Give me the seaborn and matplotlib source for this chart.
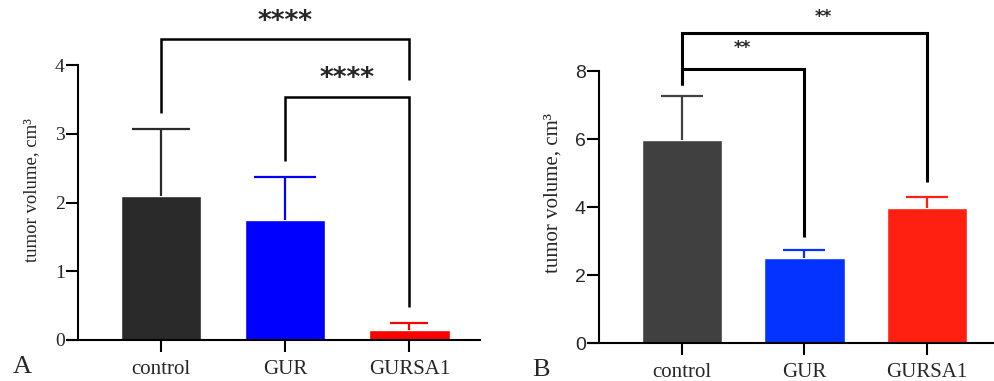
import matplotlib
matplotlib.use("Agg")
import matplotlib.pyplot as plt
import seaborn as sns
import pandas as pd

# ---- data ----
categories = ["control", "GUR", "GURSA1"]
vol_A = [2.09, 1.75, 0.14]
sd_A = [0.98, 0.62, 0.11]
vol_B = [5.97, 2.50, 3.97]
sd_B = [1.30, 0.24, 0.32]
yticks_A = [0, 1, 2, 3, 4]
yticks_B = [0, 2, 4, 6, 8]
stars_A = ["****", "****"]
stars_B = ["**", "**"]

colors_A = ["#2a2a2a", "#0000fe", "#fe0000"]
colors_B = ["#404040", "#0433ff", "#ff2011"]

sns.set_style("ticks")
plt.rcParams["font.family"] = ["Liberation Serif", "DejaVu Serif"]

W, H = 995, 381
fig = plt.figure(figsize=(W / 100, H / 100), dpi=100)


def px_ax(x0, x1, y0px):
    return [x0 / W, (H - y0px) / H, (x1 - x0) / W, y0px / H]


axA = fig.add_axes(px_ax(68, 480, 340))
axB = fig.add_axes(px_ax(588, 995, 343))

dfA = pd.DataFrame({"group": categories, "vol": vol_A})
dfB = pd.DataFrame({"group": categories, "vol": vol_B})

sns.barplot(data=dfA, x="group", y="vol", hue="group", order=categories,
            palette=colors_A, errorbar=None, width=0.65, legend=False,
            saturation=1, ax=axA)
sns.barplot(data=dfB, x="group", y="vol", hue="group", order=categories,
            palette=colors_B, errorbar=None, width=0.66, legend=False,
            saturation=1, ax=axB)

caps_A = [21, 22, 14]
caps_B = [15, 15, 15]
for ax, vals, sds, cols, caps in [(axA, vol_A, sd_A, colors_A, caps_A),
                                  (axB, vol_B, sd_B, colors_B, caps_B)]:
    for i, (v, s, c, cp) in enumerate(zip(vals, sds, cols, caps)):
        cont = ax.errorbar([i], [v], yerr=[[0], [s]], fmt="none", ecolor=c,
                           elinewidth=1.6, capsize=cp, capthick=1.6, zorder=1)
        caplines = cont.lines[1]
        if len(caplines) == 2:
            caplines[0].set_visible(False)

# axis limits / layout
axA.set_xlim(-0.75, 2.57)
axA.set_ylim(0, 340 / 68.75)
axB.set_xlim(-0.767, 2.555)
axB.set_ylim(0, 343 / 34.0)

for ax, yt, sx, fam, tfs in [(axA, yticks_A, -0.67, ["Liberation Serif"], 14),
                             (axB, yticks_B, -0.678, ["Liberation Sans"], 14)]:
    ax.spines["top"].set_visible(False)
    ax.spines["right"].set_visible(False)
    ax.spines["left"].set_position(("data", sx))
    ax.spines["left"].set_bounds(yt[0], yt[-1])
    for sp in ("left", "bottom"):
        ax.spines[sp].set_linewidth(1.5)
        ax.spines[sp].set_color("black")
    ax.set_yticks(yt)
    ax.set_yticklabels([str(t) for t in yt], family=fam, fontsize=tfs)
    ax.set_xticks(range(len(categories)))
    ax.set_xticklabels(categories, family=["Liberation Serif"], fontsize=15)
    ax.tick_params(axis="both", width=1.5, length=8.5, color="black")
    ax.tick_params(axis="x", pad=6)
    ax.tick_params(axis="y", pad=1)
    ax.set_xlabel("")
    ax.set_ylabel("tumor volume, cm³", fontsize=13.5 if ax is axA else 15,
                  family=["Liberation Serif"])
    ax.yaxis.label.set_va("center")

axA.yaxis.set_label_coords(32 / W, 1 - 190 / H, transform=fig.transFigure)
axB.yaxis.set_label_coords(553 / W, 1 - 193 / H, transform=fig.transFigure)


def bracket(ax, x1, x2, h, b1, b2, lw):
    ax.plot([x1, x1, x2, x2], [b1, h, h, b2], color="black", lw=lw,
            clip_on=False, solid_joinstyle="miter", solid_capstyle="butt")


bracket(axA, 0, 2, 4.38, 3.30, 3.78, 1.8)
bracket(axA, 1, 2, 3.53, 2.60, 0.48, 1.8)
axA.text(1.0, 4.63, stars_A[0], ha="center", va="center", fontsize=19,
         fontweight="bold", family=["DejaVu Sans"])
axA.text(1.5, 3.80, stars_A[1], ha="center", va="center", fontsize=19,
         fontweight="bold", family=["DejaVu Sans"])

bracket(axB, 0, 2, 9.12, 7.59, 4.74, 2.2)
bracket(axB, 0, 1, 8.06, 7.59, 3.12, 2.2)
axB.text(1.15, 9.59, stars_B[0], ha="center", va="center", fontsize=12,
         fontweight="bold", family=["DejaVu Sans"])
axB.text(0.49, 8.68, stars_B[1], ha="center", va="center", fontsize=12,
         fontweight="bold", family=["DejaVu Sans"])

fig.text(22 / W, 1 - 367 / H, "A", ha="center", va="center", fontsize=19,
         family=["Liberation Serif"])
fig.text(541 / W, 1 - 370 / H, "B", ha="center", va="center", fontsize=19,
         family=["Liberation Serif"])

fig.savefig("out.png", dpi=100)
